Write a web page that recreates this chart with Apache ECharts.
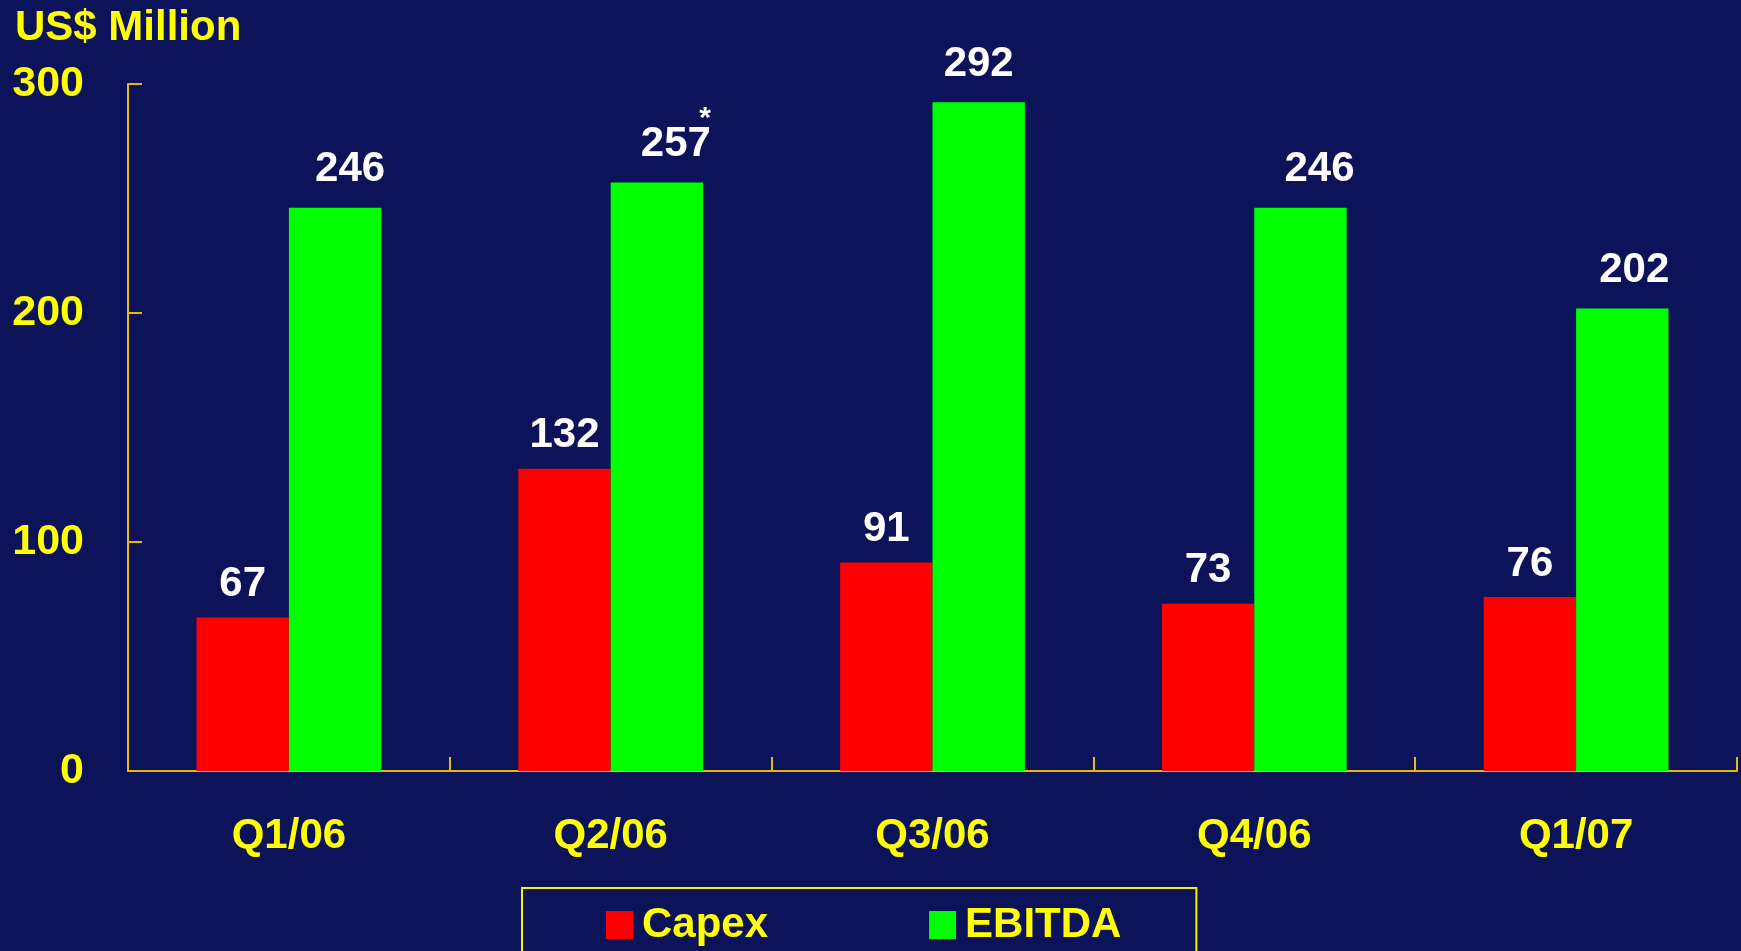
<!DOCTYPE html>
<html>
<head>
<meta charset="utf-8">
<script src="https://cdn.jsdelivr.net/npm/echarts@6/dist/echarts.min.js"></script>
<style>
html,body{margin:0;padding:0;background:#0C1358;}
#c{width:1741px;height:951px;}
</style>
</head>
<body>
<div id="c"></div>
<script>
const categories = ['Q1/06', 'Q2/06', 'Q3/06', 'Q4/06', 'Q1/07'];
const capex = [67, 132, 91, 73, 76];
const ebitda = [246, 257, 292, 246, 202];
const ebitdaNotes = ['', '*', '', '', ''];
const yTicks = [0, 100, 200, 300];
const unitLabel = 'US$ Million';

const FONT = '"Liberation Sans", Arial, sans-serif';
const axisColor = '#E8B80A';
// horizontal nudges of the EBITDA value labels, as placed in the original slide
const ebitdaLabelShift = [15, 19, 0, 19, 12];

const valueLabel = {
  show: true,
  position: 'top',
  distance: 12,
  color: '#FFFFFF',
  fontSize: 42,
  fontWeight: 'bold',
  fontFamily: FONT
};

const chart = echarts.init(document.getElementById('c'), null, {renderer: 'canvas'});
chart.setOption({
  backgroundColor: '#0C1358',
  animation: false,
  title: {
    text: unitLabel,
    left: 10,
    top: 2,
    textStyle: {color: '#FFFF00', fontSize: 42, fontWeight: 'bold', fontFamily: FONT}
  },
  grid: {left: 128, right: 4, top: 84, bottom: 180, containLabel: false},
  legend: {
    left: 522,
    top: 888,
    padding: [16, 75, 40, 84],
    itemWidth: 27,
    itemHeight: 28,
    itemGap: 161,
    icon: 'rect',
    borderColor: '#F2F000',
    borderWidth: 2,
    textStyle: {color: '#FFFF00', fontSize: 42, fontWeight: 'bold', fontFamily: FONT, padding: [0, 0, 0, 4]},
    data: ['Capex', 'EBITDA']
  },
  xAxis: {
    type: 'category',
    data: categories,
    boundaryGap: true,
    axisLine: {show: true, lineStyle: {color: axisColor, width: 2}},
    axisTick: {show: true, inside: true, length: 14, lineStyle: {color: axisColor, width: 2}},
    axisLabel: {color: '#FFFF00', fontSize: 42, fontWeight: 'bold', fontFamily: FONT, margin: 44},
    splitLine: {show: false}
  },
  yAxis: {
    type: 'value',
    min: yTicks[0],
    max: yTicks[yTicks.length - 1],
    interval: yTicks[1] - yTicks[0],
    axisLine: {show: true, lineStyle: {color: axisColor, width: 2}},
    axisTick: {show: true, inside: true, length: 14, lineStyle: {color: axisColor, width: 2}},
    axisLabel: {color: '#FFFF00', fontSize: 43, fontWeight: 'bold', fontFamily: FONT, margin: 44},
    splitLine: {show: false}
  },
  series: [
    {
      name: 'Capex',
      type: 'bar',
      data: capex,
      barWidth: '28.7%',
      barGap: '0%',
      itemStyle: {color: '#FF0000'},
      label: valueLabel
    },
    {
      name: 'EBITDA',
      type: 'bar',
      data: ebitda.map((v, i) => ({
        value: v,
        label: ebitdaNotes[i] ? {
          offset: [ebitdaLabelShift[i], 0],
          formatter: p => '{s|' + ebitdaNotes[p.dataIndex] + '}\n{v|' + p.value + '}'
        } : {offset: [ebitdaLabelShift[i], 0]}
      })),
      barWidth: '28.7%',
      itemStyle: {color: '#00FF00'},
      label: Object.assign({}, valueLabel, {
        distance: 17,
        rich: {
          v: {color: '#FFFFFF', fontSize: 42, fontWeight: 'bold', fontFamily: FONT, lineHeight: 42},
          s: {color: '#FFFFFF', fontSize: 30, fontWeight: 'bold', fontFamily: FONT, lineHeight: 10, align: 'right'}
        }
      })
    }
  ]
});
</script>
</body>
</html>
